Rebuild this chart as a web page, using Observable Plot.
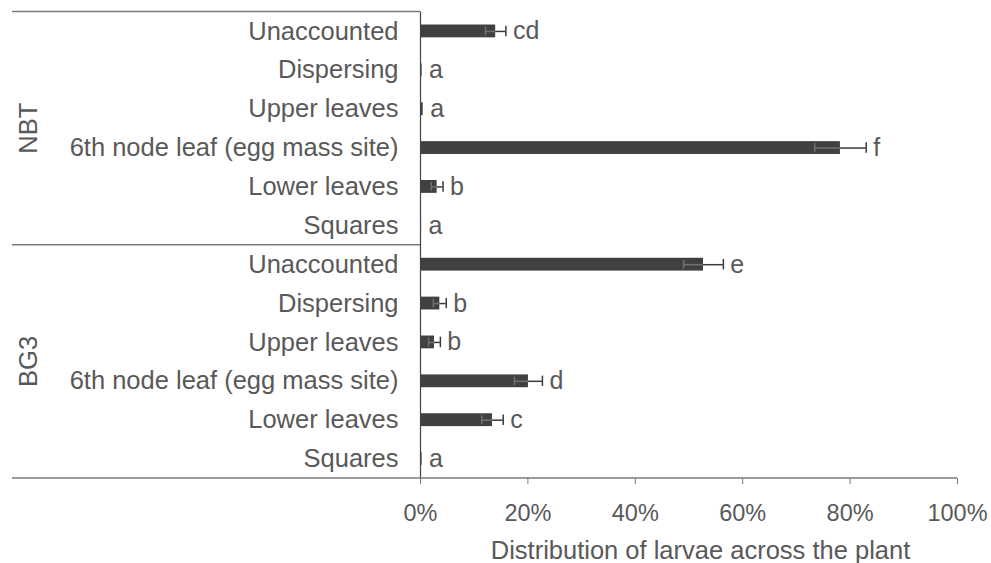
<!DOCTYPE html>
<html>
<head>
<meta charset="utf-8">
<script src="https://cdn.jsdelivr.net/npm/d3@7"></script>
<script src="https://cdn.jsdelivr.net/npm/@observablehq/plot@0.6"></script>
<style>
  html, body { margin: 0; padding: 0; background: #fff; }
  #chart { width: 991px; height: 563px; }
</style>
</head>
<body>
<div id="chart"></div>
<script>
// Groups and categories (top to bottom)
const groups = ["NBT", "BG3"];
const categories = ["Unaccounted", "Dispersing", "Upper leaves", "6th node leaf (egg mass site)", "Lower leaves", "Squares"];

// Mean % of larvae, standard errors, significance letters
const nbtValues = [14.0, 0.3, 0.5, 78.2, 3.1, 0.2];
const nbtErrors = [1.9, 0.0, 0.0, 4.8, 1.1, 0.0];
const nbtLetters = ["cd", "a", "a", "f", "b", "a"];

const bg3Values = [52.7, 3.6, 2.6, 20.1, 13.4, 0.3];
const bg3Errors = [3.7, 1.2, 1.1, 2.6, 2.0, 0.0];
const bg3Letters = ["e", "b", "b", "d", "c", "a"];

const xTicks = [0, 20, 40, 60, 80, 100];
const xTitle = "Distribution of larvae across the plant";

const data = [];
groups.forEach((g, gi) => {
  const vals = gi === 0 ? nbtValues : bg3Values;
  const errs = gi === 0 ? nbtErrors : bg3Errors;
  const lets = gi === 0 ? nbtLetters : bg3Letters;
  categories.forEach((c, i) => {
    data.push({group: g, category: c, key: g + "|" + c, value: vals[i], err: errs[i], letter: lets[i]});
  });
});
const keys = data.map(d => d.key);
const withErr = data.filter(d => d.err > 0);

const textColor = "#595959";
const font = "'Liberation Sans', Arial, sans-serif";

const plot = Plot.plot({
  width: 991,
  height: 563,
  marginLeft: 420,
  marginRight: 34,
  marginTop: 11.5,
  marginBottom: 85,
  style: {fontFamily: font, fontSize: "25px", color: textColor, background: "#fff"},
  x: {domain: [0, 100]},
  y: {domain: keys, paddingInner: 0.67, paddingOuter: 0.335, round: false},
  marks: [
    Plot.barX(data, {x: "value", y: "key", fill: "#404040"}),
    Plot.ruleY(withErr, {y: "key", x1: d => d.value - d.err, x2: d => d.value, stroke: "#707070", strokeWidth: 1.5}),
    Plot.ruleY(withErr, {y: "key", x1: "value", x2: d => d.value + d.err, stroke: "#3a3a3a", strokeWidth: 1.5}),
    Plot.tickX(withErr, {x: d => d.value - d.err, y: "key", stroke: "#707070", strokeWidth: 1.5, insetTop: 2, insetBottom: 2}),
    Plot.tickX(withErr, {x: d => d.value + d.err, y: "key", stroke: "#3a3a3a", strokeWidth: 1.5, insetTop: 1.2, insetBottom: 1.2}),
    Plot.text(data, {x: d => d.value + d.err, y: "key", text: "letter", textAnchor: "start", dx: 7, fill: textColor, fontSize: 25}),
    Plot.ruleX([0], {stroke: "#444", strokeWidth: 1.2}),
    Plot.axisY({tickSize: 0, tickPadding: 22, tickFormat: k => k.split("|")[1], fontSize: 25.5, label: null}),
    Plot.axisX({ticks: xTicks, tickFormat: d => d + "%", tickSize: 6, tickPadding: 20, fontSize: 23.5,
      label: null, stroke: "#7a7a7a"})
  ]
});

const container = document.getElementById("chart");
container.appendChild(plot);

// Group structure (separators, rotated group labels, axis title) from the scales
const ys = plot.scale("y");
const svg = d3.select(plot);
const yTop = ys.range[0];
const yBottom = ys.range[1];
const yStep = ys.step;
const xs = plot.scale("x");
const x0 = xs.apply(0);
const xEnd = xs.apply(100);
const leftEdge = 12;
const lineColor = "#7a7a7a";

[yTop, yTop + categories.length * yStep].forEach(yy => {
  svg.append("line").attr("x1", leftEdge).attr("x2", x0).attr("y1", yy).attr("y2", yy)
    .attr("stroke", lineColor).attr("stroke-width", 1.3);
});
svg.append("line").attr("x1", leftEdge).attr("x2", xEnd).attr("y1", yBottom).attr("y2", yBottom)
  .attr("stroke", lineColor).attr("stroke-width", 1.3);

groups.forEach((g, gi) => {
  const cy = yTop + (gi * categories.length + categories.length / 2) * yStep;
  svg.append("text").attr("transform", `translate(37,${cy}) rotate(-90)`)
    .attr("text-anchor", "middle").attr("fill", textColor)
    .attr("font-family", font).attr("font-size", 25.5).text(g);
});

svg.append("text").attr("x", (x0 + xEnd) / 2 + 12).attr("y", 559)
  .attr("text-anchor", "middle").attr("fill", textColor)
  .attr("font-family", font).attr("font-size", 25.5).text(xTitle);
</script>
</body>
</html>
